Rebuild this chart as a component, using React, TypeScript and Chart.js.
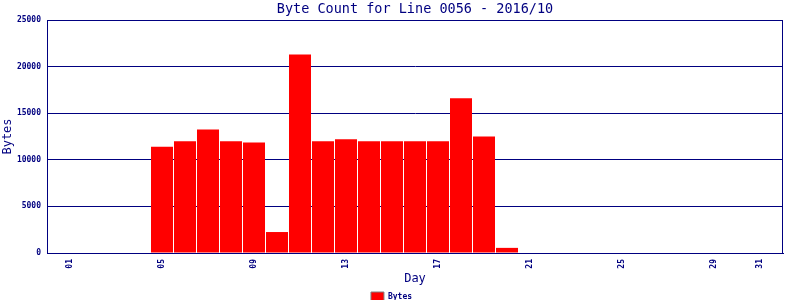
import React, { useEffect, useRef } from "react";
import { Chart, registerables } from "chart.js";

Chart.register(...registerables);

const TITLE = "Byte Count for Line 0056 - 2016/10";
const SERIES_LABEL = "Bytes";
const X_TITLE = "Day";
const Y_TITLE = "Bytes";

const days = [
  1, 2, 3, 4, 5, 6, 7, 8, 9, 10, 11, 12, 13, 14, 15, 16, 17, 18, 19, 20, 21, 22, 23, 24, 25, 26, 27, 28, 29, 30, 31,
];
const bytes = [
  0, 0, 0, 0, 11400, 12000, 13250, 12000, 11850, 2250, 21300, 12000, 12200, 12000, 12000, 12000, 12000, 16600, 12500,
  550, 0, 0, 0, 0, 0, 0, 0, 0, 0, 0, 0,
];
const xTickDays = [1, 5, 9, 13, 17, 21, 25, 29, 31];
const yMax = 25000;
const yStep = 5000;

const NAVY = "#000080";
const MONO = "'DejaVu Sans Mono', monospace";

const frameAndTitle = {
  id: "frameAndTitle",
  afterDraw(chart: any) {
    const { ctx, chartArea } = chart;
    ctx.save();
    ctx.strokeStyle = NAVY;
    ctx.lineWidth = 1;
    ctx.strokeRect(
      Math.round(chartArea.left) + 0.5,
      Math.round(chartArea.top) + 0.5,
      Math.round(chartArea.right - chartArea.left) - 1,
      Math.round(chartArea.bottom - chartArea.top)
    );
    ctx.fillStyle = NAVY;
    ctx.font = `13.5px ${MONO}`;
    ctx.textAlign = "center";
    ctx.textBaseline = "middle";
    ctx.fillText(TITLE, (chartArea.left + chartArea.right) / 2, 9);
    ctx.restore();
  },
};

export default function App() {
  const ref = useRef<HTMLCanvasElement | null>(null);

  useEffect(() => {
    if (!ref.current) return;
    const chart = new Chart(ref.current, {
      type: "bar",
      data: {
        datasets: [
          {
            label: SERIES_LABEL,
            data: days.map((d, i) => ({ x: d, y: bytes[i] })),
            backgroundColor: "#ff0000",
            borderWidth: 0,
            barThickness: 22,
            inflateAmount: 0,
          },
        ],
      },
      options: {
        animation: false,
        responsive: false,
        maintainAspectRatio: false,
        layout: { padding: { top: 20, right: 17, left: 0, bottom: -11 } },
        plugins: {
          title: { display: false },
          tooltip: { enabled: false },
          legend: {
            display: true,
            position: "bottom",
            labels: {
              boxWidth: 13,
              boxHeight: 9,
              padding: 2,
              color: NAVY,
              font: { family: MONO, size: 8, weight: "bold" },
              generateLabels: () => [
                {
                  text: SERIES_LABEL,
                  fillStyle: "#ff0000",
                  strokeStyle: "#808080",
                  lineWidth: 1,
                  fontColor: NAVY,
                  datasetIndex: 0,
                  hidden: false,
                },
              ],
            },
          },
        },
        scales: {
          x: {
            type: "linear",
            min: 0,
            max: 32,
            offset: false,
            grid: { display: false, drawTicks: false, offset: false },
            border: { display: true, color: NAVY, width: 1 },
            afterBuildTicks: (scale: any) => {
              scale.ticks = xTickDays.map((v) => ({ value: v }));
            },
            afterFit: (scale: any) => {
              scale.height = 37;
            },
            ticks: {
              autoSkip: false,
              maxRotation: 90,
              minRotation: 90,
              padding: 6,
              color: NAVY,
              font: { family: MONO, size: 8, weight: "bold" },
              callback: (v: any) => String(v).padStart(2, "0"),
            },
            title: {
              display: true,
              text: X_TITLE,
              color: NAVY,
              font: { family: MONO, size: 12 },
              padding: { top: 0, bottom: 4 },
            },
          },
          y: {
            min: 0,
            max: yMax,
            grid: { color: NAVY, lineWidth: 1, drawTicks: false },
            border: { display: true, color: NAVY, width: 1 },
            afterFit: (scale: any) => {
              scale.width = 47;
            },
            ticks: {
              stepSize: yStep,
              padding: 6,
              color: NAVY,
              font: { family: MONO, size: 8, weight: "bold" },
              callback: (v: any) => String(v),
            },
            title: {
              display: true,
              text: Y_TITLE,
              color: NAVY,
              font: { family: MONO, size: 12 },
              padding: { top: 1, bottom: 0 },
            },
          },
        },
      } as any,
      plugins: [frameAndTitle],
    });
    return () => chart.destroy();
  }, []);

  return (
    <div style={{ position: "fixed", left: 0, top: 0, width: 800, height: 300, background: "#fff" }}>
      <canvas ref={ref} width={800} height={300} style={{ display: "block" }} />
    </div>
  );
}
